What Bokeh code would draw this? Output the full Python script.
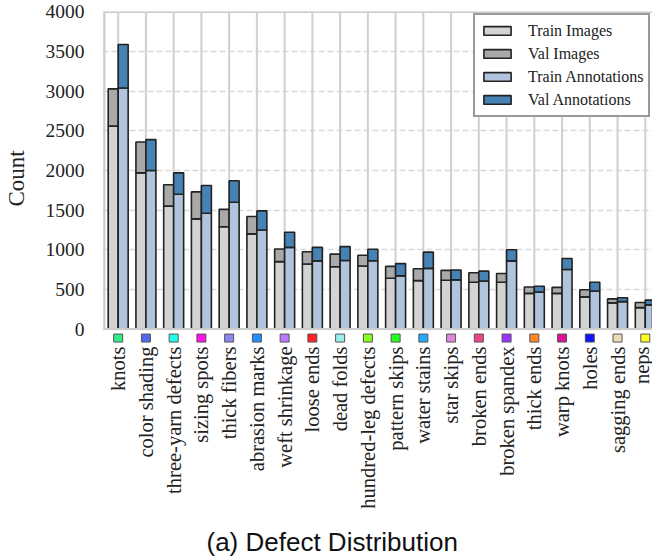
import math
from bokeh.plotting import figure
from bokeh.models import FixedTicker, Legend, LegendItem, Title
from bokeh.embed import file_html
from bokeh.resources import INLINE

categories = ["knots", "color shading", "three-yarn defects", "sizing spots", "thick fibers",
              "abrasion marks", "weft shrinkage", "loose ends", "dead folds", "hundred-leg defects",
              "pattern skips", "water stains", "star skips", "broken ends", "broken spandex",
              "thick ends", "warp knots", "holes", "sagging ends", "neps"]
train_images = [2560, 1970, 1550, 1390, 1290, 1200, 850, 820, 785, 795,
                640, 610, 615, 590, 590, 450, 450, 405, 330, 270]
val_images = [470, 390, 270, 340, 220, 220, 160, 155, 160, 135,
              150, 150, 125, 120, 110, 80, 75, 90, 50, 65]
train_annotations = [3040, 2000, 1700, 1460, 1600, 1250, 1030, 860, 865, 862,
                     670, 765, 620, 605, 860, 465, 750, 480, 345, 305]
val_annotations = [550, 390, 270, 350, 270, 240, 190, 170, 175, 145,
                   155, 205, 125, 125, 140, 75, 140, 110, 50, 60]
marker_colors = ["#33ee88", "#5566ee", "#22ffee", "#ff11ee", "#8888ee", "#1e90ff", "#bb77ff",
                 "#ff2222", "#99eeee", "#88ff22", "#22ff22", "#22aaff", "#dd88dd", "#ee4488",
                 "#9933ff", "#ff8822", "#dd1199", "#1111ff", "#eeddbb", "#ffff22"]
y_ticks = [0, 500, 1000, 1500, 2000, 2500, 3000, 3500, 4000]
series_names = ["Train Images", "Val Images", "Train Annotations", "Val Annotations"]
series_colors = ["#d3d3d3", "#a9a9a9", "#b0c4de", "#4682b4"]
chart_title = "(a) Defect Distribution"

n = len(categories)
xs = list(range(n))
img_x = [i - 0.18 for i in xs]
ann_x = [i + 0.18 for i in xs]
img_total = [a + b for a, b in zip(train_images, val_images)]
ann_total = [a + b for a, b in zip(train_annotations, val_annotations)]

p = figure(width=652, height=556, output_backend="svg", toolbar_location=None,
           x_range=(-0.565, 19.26), y_range=(-208, 4006),
           min_border_left=101, min_border_right=0, min_border_top=11, min_border_bottom=211)
p.outline_line_color = None
p.background_fill_color = "white"
p.xgrid.grid_line_color = None
p.ygrid.ticker = FixedTicker(ticks=y_ticks)
p.ygrid.grid_line_color = "#d9d9d9"
p.ygrid.grid_line_width = 1.5
p.ygrid.grid_line_dash = "6 3"

# vertical grid lines
p.segment(x0=xs, x1=xs, y0=[0] * n, y1=[y_ticks[-1]] * n, line_color="#d0d0d0", line_width=2)

bar_w = 0.36
r_ti = p.vbar(x=img_x, width=bar_w, bottom=0, top=train_images,
              fill_color=series_colors[0], line_color="#222222", line_width=1.6)
r_vi = p.vbar(x=img_x, width=bar_w, bottom=train_images, top=img_total,
              fill_color=series_colors[1], line_color="#222222", line_width=1.6)
r_ta = p.vbar(x=ann_x, width=bar_w, bottom=0, top=train_annotations,
              fill_color=series_colors[2], line_color="#222222", line_width=1.6)
r_va = p.vbar(x=ann_x, width=bar_w, bottom=train_annotations, top=ann_total,
              fill_color=series_colors[3], line_color="#222222", line_width=1.6)

# frame borders
p.segment(x0=[-0.5, -0.5, -0.5], x1=[-0.5, 19.3, 19.3], y0=[0, 0, 4000], y1=[4000, 0, 4000],
          line_color="#cccccc", line_width=2.2)

# colored category markers
p.rect(x=xs, y=[-114] * n, width=9, height=8, width_units="screen", height_units="screen",
       fill_color=marker_colors, line_color="#555555", line_width=1)

# axes
p.yaxis.ticker = FixedTicker(ticks=y_ticks)
p.yaxis.axis_line_color = None
p.yaxis.major_tick_line_color = None
p.yaxis.minor_tick_line_color = None
p.yaxis.major_tick_out = 0
p.yaxis.major_tick_in = 0
p.yaxis.minor_tick_out = 0
p.yaxis.major_label_text_font = "Liberation Serif"
p.yaxis.major_label_text_font_size = "19.5px"
p.yaxis.major_label_text_color = "#222222"
p.yaxis.major_label_standoff = 18
p.yaxis.axis_label = "Count"
p.yaxis.axis_label_text_font = "Liberation Serif"
p.yaxis.axis_label_text_font_size = "23px"
p.yaxis.axis_label_text_font_style = "normal"
p.yaxis.axis_label_text_color = "#222222"
p.yaxis.axis_label_standoff = 14

p.xaxis.ticker = FixedTicker(ticks=xs)
p.xaxis.major_label_overrides = {i: c for i, c in enumerate(categories)}
p.xaxis.major_label_orientation = math.pi / 2
p.xaxis.axis_line_color = None
p.xaxis.major_tick_line_color = None
p.xaxis.minor_tick_line_color = None
p.xaxis.major_tick_out = 0
p.xaxis.major_tick_in = 0
p.xaxis.minor_tick_out = 0
p.xaxis.major_label_text_font = "Liberation Serif"
p.xaxis.major_label_text_font_size = "20.5px"
p.xaxis.major_label_text_color = "#222222"
p.xaxis.major_label_standoff = 1

spacer = Title(text=" ", text_font_size="1px", standoff=10)
p.add_layout(spacer, "below")
title = Title(text=chart_title, align="left", offset=104, vertical_align="bottom",
              text_font="Liberation Sans", text_font_size="26px", text_font_style="normal",
              text_color="#111111", standoff=0)
p.add_layout(title, "below")

legend = Legend(items=[LegendItem(label=series_names[0], renderers=[r_ti]),
                       LegendItem(label=series_names[1], renderers=[r_vi]),
                       LegendItem(label=series_names[2], renderers=[r_ta]),
                       LegendItem(label=series_names[3], renderers=[r_va])],
                location=(371, 228), padding=5, spacing=2, margin=0,
                glyph_width=34, glyph_height=11, label_height=21, label_standoff=14,
                label_text_font="Liberation Serif", label_text_font_size="16px",
                label_text_color="#222222", border_line_color="#333333", border_line_width=2,
                background_fill_color="white", background_fill_alpha=1)
p.add_layout(legend, "center")

open("out.html", "w").write(file_html(p, INLINE))
